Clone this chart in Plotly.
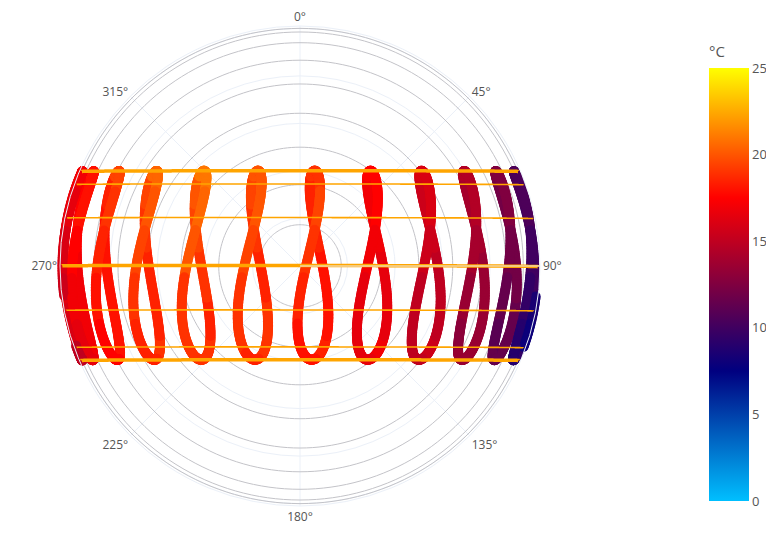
import numpy as np
import plotly.graph_objects as go

# ---------------- data ----------------
# Site (Quito, Ecuador) used for the sun-position projection
SITE_LAT = -0.18
SITE_LON = -78.47
SITE_TZ = -5

# clock hours that have an analemma
HOURS = [6, 7, 8, 9, 10, 11, 12, 13, 14, 15, 16, 17, 18]

MONTH_LENGTHS = [31, 28, 31, 30, 31, 30, 31, 31, 30, 31, 30, 31]

# typical air temperature (°C) per month (rows Jan..Dec) and clock hour (cols 6..18)
TEMP_C = [
    [8.5, 9.5, 11.5, 13.5, 15.5, 17.0, 18.5, 19.0, 19.0, 19.0, 18.0, 17.0, 16.0],
    [8.5, 9.5, 11.5, 13.5, 15.0, 16.5, 18.0, 19.0, 18.5, 18.5, 18.0, 17.0, 16.0],
    [9.0, 10.0, 12.0, 13.5, 15.0, 16.5, 18.0, 18.5, 19.0, 18.5, 18.0, 17.0, 16.5],
    [9.0, 10.0, 12.0, 14.0, 15.5, 17.0, 18.5, 19.0, 19.5, 19.0, 18.0, 17.5, 16.5],
    [9.0, 10.5, 12.0, 14.0, 15.5, 17.0, 18.5, 19.5, 20.0, 19.5, 18.5, 17.5, 17.0],
    [9.0, 10.5, 12.5, 14.5, 16.0, 17.5, 19.0, 20.0, 21.0, 20.5, 19.5, 18.0, 17.0],
    [9.0, 10.5, 12.5, 14.5, 16.0, 17.5, 19.0, 20.0, 21.0, 20.5, 19.5, 18.0, 17.0],
    [9.0, 10.5, 12.5, 14.5, 16.0, 17.5, 19.5, 20.0, 20.5, 20.0, 19.0, 18.0, 16.5],
    [9.0, 10.0, 12.0, 14.0, 15.5, 17.0, 19.0, 19.5, 20.0, 19.5, 18.5, 17.5, 16.0],
    [8.5, 9.5, 11.5, 13.5, 15.0, 16.5, 18.5, 19.0, 19.0, 19.0, 18.0, 17.0, 15.5],
    [8.0, 9.0, 11.0, 13.0, 15.0, 16.5, 18.0, 19.0, 19.0, 18.5, 17.5, 16.5, 15.0],
    [8.0, 9.0, 11.5, 13.5, 15.0, 16.5, 18.0, 18.5, 19.0, 18.5, 17.5, 16.5, 15.0],
]

# day-of-year of the dates whose sun paths are drawn (21st of Jan..Jun and Dec)
PATH_DAYS = [21, 52, 80, 111, 141, 172, 355]
PATH_MAIN = [80, 172, 355]          # equinox / solstices

# altitude circles (degrees)
ALTITUDE_RINGS = [0, 10, 20, 30, 40, 50, 60, 70, 80]

COLOR_RANGE = [0, 25]


# ---------------- sun position (NOAA approximation) ----------------
def sun_position(doy, clock_h):
    doy = np.asarray(doy, dtype=float)
    clock_h = np.asarray(clock_h, dtype=float)
    g = 2 * np.pi / 365 * (doy - 1 + (clock_h - 12) / 24)
    eot = 229.18 * (0.000075 + 0.001868 * np.cos(g) - 0.032077 * np.sin(g)
                    - 0.014615 * np.cos(2 * g) - 0.040849 * np.sin(2 * g))
    decl = (0.006918 - 0.399912 * np.cos(g) + 0.070257 * np.sin(g)
            - 0.006758 * np.cos(2 * g) + 0.000907 * np.sin(2 * g)
            - 0.002697 * np.cos(3 * g) + 0.00148 * np.sin(3 * g))
    tst = clock_h * 60 + eot + 4 * SITE_LON - 60 * SITE_TZ
    ha = np.radians(tst / 4 - 180)
    phi = np.radians(SITE_LAT)
    east = -np.cos(decl) * np.sin(ha)
    north = np.cos(phi) * np.sin(decl) - np.sin(phi) * np.cos(decl) * np.cos(ha)
    up = np.sin(phi) * np.sin(decl) + np.cos(phi) * np.cos(decl) * np.cos(ha)
    az = np.degrees(np.arctan2(east, north)) % 360
    r = np.hypot(east, north)          # orthographic: cos(elevation)
    return az, r, up


# analemma points: every day of the year at each clock hour
doys, hrs, temps = [], [], []
doy = 0
for m, ml in enumerate(MONTH_LENGTHS):
    for d in range(ml):
        doy += 1
        for j, h in enumerate(HOURS):
            doys.append(doy)
            hrs.append(h)
            temps.append(TEMP_C[m][j])
az, rr, up = sun_position(doys, hrs)
vis = up > 0
temps = np.array(temps)

fig = go.Figure()

# altitude rings
ring_theta = np.arange(0, 361, 2)
for alt in ALTITUDE_RINGS:
    fig.add_trace(go.Scatterpolar(
        r=np.full(ring_theta.shape, np.cos(np.radians(alt))), theta=ring_theta,
        mode="lines", line=dict(color="rgb(195,195,200)", width=1),
        hoverinfo="skip", showlegend=False))

colorscale = [[0.0, "deepskyblue"], [0.3, "navy"], [0.7, "red"], [1.0, "yellow"]]

W, H = 758, 517

fig.add_trace(go.Scatterpolar(
    r=rr[vis], theta=az[vis], mode="markers",
    marker=dict(size=10, color=temps[vis], colorscale=colorscale,
                cmin=COLOR_RANGE[0], cmax=COLOR_RANGE[1],
                colorbar=dict(
                    title=dict(text="°C", side="top", font=dict(size=15, color="#555")),
                    thickness=40, lenmode="pixels", len=458,
                    x=701 / W, xanchor="left", xpad=0,
                    y=1 - 264 / H, yanchor="middle", ypad=0,
                    outlinewidth=0, ticks="",
                    tickfont=dict(size=13, color="#555"))),
    showlegend=False, hoverinfo="skip"))

# sun paths
t = np.arange(4.5, 20.0, 1 / 60)
for pd_ in PATH_DAYS:
    paz, pr, pup = sun_position(np.full(t.shape, pd_), t)
    keep = pup > 0
    fig.add_trace(go.Scatterpolar(
        r=pr[keep], theta=paz[keep], mode="lines",
        line=dict(color="orange", width=3.5 if pd_ in PATH_MAIN else 1.6),
        hoverinfo="skip", showlegend=False))

# polar circle: centre (292, 258), radius 240 in figure pixels
fig.update_layout(
    template="plotly_white",
    width=W, height=H,
    margin=dict(l=0, r=0, t=0, b=0),
    font=dict(family="Open Sans", size=12),
    polar=dict(
        domain=dict(x=[52 / W, 532 / W], y=[(H - 498) / H, (H - 18) / H]),
        bgcolor="white",
        angularaxis=dict(rotation=90, direction="clockwise",
                         gridcolor="#EBF0F8", linecolor="#EBF0F8",
                         tickfont=dict(size=12, color="#555")),
        radialaxis=dict(range=[0, 1.01], showticklabels=False, ticks="",
                        gridcolor="#EBF0F8", linecolor="#EBF0F8"),
    ),
)

fig.write_html("out.html")
